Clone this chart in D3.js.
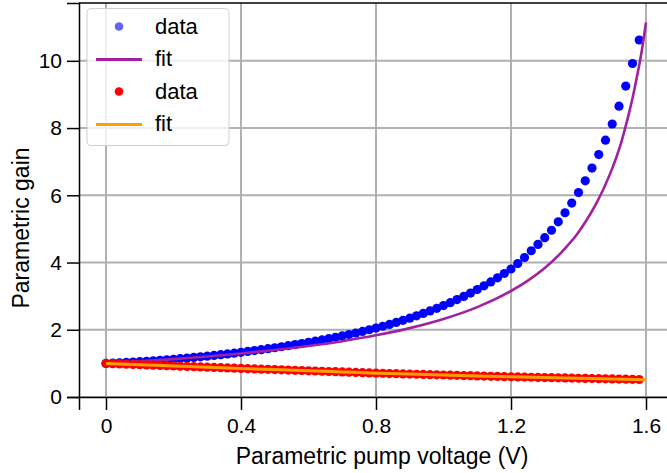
<!DOCTYPE html>
<html>
<head>
<meta charset="utf-8">
<script src="https://cdn.jsdelivr.net/npm/d3@7"></script>
<style>
  body { margin: 0; background: #fff; }
  svg text { font-family: "Liberation Sans", Arial, sans-serif; fill: #000; }
</style>
</head>
<body>
<svg id="chart"></svg>
<script>
// pump voltage steps (V) shared by both measured series
const voltage = d3.range(80).map(i => +(i * 0.02).toFixed(2));

// measured gain, first series (blue)
const gainBlue = [
  1.000, 1.008, 1.017, 1.027, 1.038, 1.050, 1.063, 1.077, 1.091, 1.106,
  1.122, 1.139, 1.157, 1.176, 1.195, 1.215, 1.236, 1.258, 1.281, 1.305,
  1.330, 1.355, 1.381, 1.408, 1.436, 1.465, 1.495, 1.526, 1.558, 1.591,
  1.625, 1.660, 1.697, 1.735, 1.775, 1.816, 1.859, 1.904, 1.951, 2.000,
  2.051, 2.104, 2.160, 2.219, 2.281, 2.346, 2.414, 2.485, 2.559, 2.637,
  2.719, 2.806, 2.897, 2.992, 3.092, 3.197, 3.307, 3.423, 3.545, 3.673,
  3.808, 3.970, 4.150, 4.350, 4.540, 4.740, 4.960, 5.210, 5.480, 5.770,
  6.080, 6.430, 6.810, 7.210, 7.640, 8.120, 8.650, 9.250, 9.920, 10.620
];

// measured gain, second series (red)
const gainRed = [
  1.000, 0.992, 0.985, 0.977, 0.970, 0.962, 0.955, 0.947, 0.940, 0.932,
  0.925, 0.917, 0.910, 0.902, 0.895, 0.887, 0.880, 0.872, 0.865, 0.857,
  0.850, 0.843, 0.836, 0.829, 0.822, 0.815, 0.808, 0.801, 0.794, 0.787,
  0.780, 0.773, 0.766, 0.759, 0.752, 0.745, 0.738, 0.731, 0.724, 0.717,
  0.710, 0.704, 0.698, 0.693, 0.687, 0.682, 0.676, 0.671, 0.665, 0.660,
  0.655, 0.649, 0.644, 0.638, 0.633, 0.627, 0.622, 0.616, 0.611, 0.605,
  0.600, 0.596, 0.592, 0.588, 0.583, 0.579, 0.575, 0.571, 0.567, 0.563,
  0.558, 0.554, 0.550, 0.546, 0.542, 0.538, 0.533, 0.529, 0.525, 0.520
];

// fit curves
const fitBlueV = [0, 0.1, 0.2, 0.3, 0.4, 0.5, 0.6, 0.7, 0.8, 0.9, 1.0, 1.1, 1.2,
                  1.25, 1.3, 1.35, 1.4, 1.425, 1.45, 1.475, 1.5, 1.5125, 1.525,
                  1.5375, 1.55, 1.5625, 1.575, 1.5875, 1.6];
const fitBlueG = [1.000, 1.060, 1.128, 1.206, 1.296, 1.397, 1.517, 1.661, 1.835, 2.049, 2.320, 2.673, 3.153,
                  3.460, 3.834, 4.310, 4.900, 5.280, 5.710, 6.210, 6.800, 7.140, 7.520,
                  7.970, 8.460, 9.000, 9.620, 10.300, 11.140];
const fitRedV = [0, 0.1, 0.2, 0.3, 0.4, 0.5, 0.6, 0.7, 0.8, 0.9, 1.0, 1.1, 1.2, 1.3, 1.4, 1.5, 1.6];
const fitRedG = [1.000, 0.962, 0.925, 0.887, 0.850, 0.815, 0.780, 0.745, 0.710,
                 0.682, 0.655, 0.627, 0.600, 0.579, 0.558, 0.538, 0.516];

const xTicks = [0, 0.4, 0.8, 1.2, 1.6];
const yTicks = [0, 2, 4, 6, 8, 10];

const W = 667, H = 473;
const margin = { left: 79, top: 3, bottom: 397, right: 673 };

const svg = d3.select('#chart').attr('width', W).attr('height', H);

const x = d3.scaleLinear().domain([-0.08, 1.68]).range([margin.left, margin.right]);
const y = d3.scaleLinear().domain([0, 11.72]).range([margin.bottom, margin.top]);

svg.append('clipPath').attr('id', 'plot-clip')
  .append('rect').attr('x', margin.left).attr('y', margin.top)
  .attr('width', margin.right - margin.left).attr('height', margin.bottom - margin.top);

// gridlines
const grid = svg.append('g').attr('stroke', '#b0b0b0').attr('stroke-width', 2);
grid.selectAll('.gx').data(xTicks).join('line')
  .attr('x1', d => x(d)).attr('x2', d => x(d)).attr('y1', margin.top).attr('y2', margin.bottom);
grid.selectAll('.gy').data(yTicks).join('line')
  .attr('x1', margin.left).attr('x2', margin.right).attr('y1', d => y(d)).attr('y2', d => y(d));

const plot = svg.append('g').attr('clip-path', 'url(#plot-clip)');

const line = d3.line().x(d => x(d[0])).y(d => y(d[1])).curve(d3.curveMonotoneX);

plot.append('g').selectAll('circle')
  .data(voltage.map((v, i) => [v, gainBlue[i]]))
  .join('circle')
    .attr('cx', d => x(d[0])).attr('cy', d => y(d[1])).attr('r', 4.6)
    .attr('fill', '#0000ff');

plot.append('path')
  .datum(fitBlueV.map((v, i) => [v, fitBlueG[i]]))
  .attr('d', line).attr('fill', 'none')
  .attr('stroke', '#a0229f').attr('stroke-width', 2.6);

plot.append('g').selectAll('circle')
  .data(voltage.map((v, i) => [v, gainRed[i]]))
  .join('circle')
    .attr('cx', d => x(d[0])).attr('cy', d => y(d[1])).attr('r', 4.6)
    .attr('fill', '#ff0000');

plot.append('path')
  .datum(fitRedV.map((v, i) => [v, fitRedG[i]]))
  .attr('d', line).attr('fill', 'none')
  .attr('stroke', '#ffa000').attr('stroke-width', 3);

// axes
const xAxis = svg.append('g')
  .attr('transform', `translate(0,${margin.bottom})`)
  .call(d3.axisBottom(x).tickValues(xTicks).tickFormat(d3.format('')).tickSizeOuter(0).tickSize(13).tickPadding(8));
const yAxis = svg.append('g')
  .attr('transform', `translate(${margin.left},0)`)
  .call(d3.axisLeft(y).tickValues(yTicks).tickSizeOuter(0).tickSize(12).tickPadding(5));
[xAxis, yAxis].forEach(g => {
  g.selectAll('text').style('font-size', '21px');
  g.selectAll('line').attr('stroke-width', 1.5);
  g.select('.domain').attr('stroke-width', 1.5);
});
svg.append('line').attr('x1', margin.left).attr('x2', W).attr('y1', margin.top).attr('y2', margin.top)
  .attr('stroke', '#000').attr('stroke-width', 1.5);

svg.append('text')
  .attr('x', 382).attr('y', 464)
  .attr('text-anchor', 'middle').style('font-size', '23px')
  .text('Parametric pump voltage (V)');
svg.append('text')
  .attr('transform', 'translate(29,228) rotate(-90)')
  .attr('text-anchor', 'middle').style('font-size', '23px')
  .text('Parametric gain');

// legend
const legend = svg.append('g');
legend.append('rect')
  .attr('x', 87).attr('y', 8.5).attr('width', 142).attr('height', 137).attr('rx', 4)
  .attr('fill', '#fff').attr('fill-opacity', 0.8)
  .attr('stroke', '#d0d0d0').attr('stroke-width', 1);

const legendItems = [
  { type: 'dot', color: '#6464f8', label: 'data' },
  { type: 'line', color: '#a0229f', label: 'fit' },
  { type: 'dot', color: '#ff0000', label: 'data' },
  { type: 'line', color: '#ffa000', label: 'fit' }
];
legendItems.forEach((d, i) => {
  const cy = 26.5 + i * 32.5;
  if (d.type === 'dot') {
    legend.append('circle').attr('cx', 119).attr('cy', cy).attr('r', 4.3).attr('fill', d.color);
  } else {
    legend.append('line').attr('x1', 96).attr('x2', 142).attr('y1', cy + 0.5).attr('y2', cy + 0.5)
      .attr('stroke', d.color).attr('stroke-width', 3);
  }
  legend.append('text').attr('x', 155).attr('y', cy + 7).style('font-size', '22px').text(d.label);
});
</script>
</body>
</html>
